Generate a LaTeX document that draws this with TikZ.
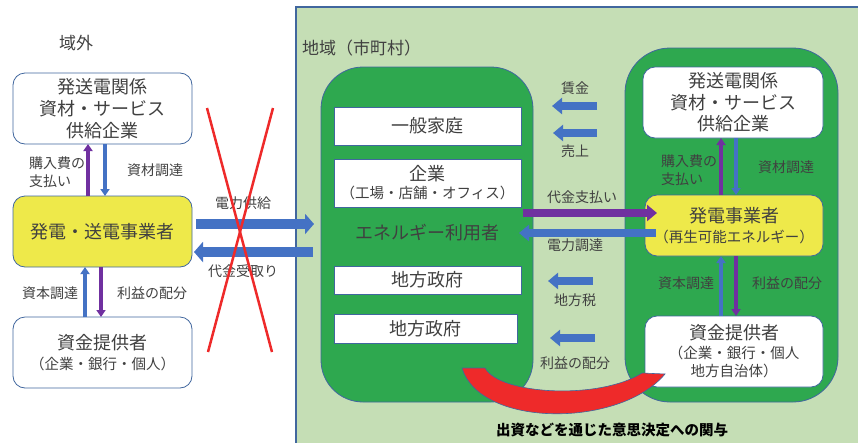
\documentclass[tikz,border=0pt]{standalone}
\usepackage{fontspec}
\setmainfont{Noto Sans CJK JP}
\usetikzlibrary{arrows.meta}
\definecolor{txt}{HTML}{404040}
\definecolor{bgreen}{HTML}{C5DEB5}
\definecolor{dgreen}{HTML}{2EA84F}
\definecolor{bblue}{HTML}{4472C4}
\definecolor{ppl}{HTML}{7030A0}
\definecolor{yel}{HTML}{EEE94A}
\definecolor{rred}{HTML}{EE2A2A}
\definecolor{edge}{HTML}{41679E}
\newcommand\fbig{\fontsize{18}{22}\selectfont}
\newcommand\fsm{\fontsize{14}{18}\selectfont}
\tikzset{
  box/.style={draw=edge, line width=0.8pt, rounded corners=12pt, inner sep=0pt, outer sep=0pt, align=center, text=txt, font=\fbig},
  wbox/.style={box, fill=white},
  ybox/.style={box, fill=yel},
  rbox/.style={draw=edge, line width=0.8pt, fill=white, inner sep=0pt, outer sep=0pt, align=center, text=txt, font=\fbig},
  gbox/.style={draw=edge, line width=0.8pt, fill=dgreen},
  lbl/.style={text=txt, font=\fsm, inner sep=0pt, align=center},
  thinb/.style={draw=bblue, line width=3.2pt, -{Triangle[width=9pt,length=7pt]}},
  thinp/.style={draw=ppl, line width=3.2pt, -{Triangle[width=9pt,length=7pt]}},
  blk/.style={line width=8pt, -{Triangle[width=16pt,length=10pt]}},
}
\begin{document}
\begin{tikzpicture}[x=1pt, y=-1pt]
\useasboundingbox (0,0) rectangle (858,442);
% region background
\fill[bgreen] (296,7) rectangle (862,446);
\draw[edge, line width=1.2pt] (296,446) -- (296,7) -- (862,7);
\node[text=txt, font=\fontsize{17}{20}\selectfont, inner sep=0pt] (outside) at (76,43) {域外};
\node[text=txt, font=\fontsize{17}{20}\selectfont, inner sep=0pt, anchor=west] (region) at (302,48) {地域（市町村）};
% green containers
\draw[gbox, rounded corners=42pt] (321,67) rectangle (533,402);
\draw[gbox, rounded corners=45pt] (625,48) rectangle (838,402);
% left side boxes
\node[wbox, minimum width=179pt, minimum height=71pt] (lsup) at (102.5,108.5) {発送電関係\\資材・サービス\\供給企業};
\node[ybox, minimum width=179pt, minimum height=71pt] (lgen) at (102.5,231.5) {発電・送電事業者};
\node[wbox, minimum width=179pt, minimum height=71pt, font=\fontsize{14.5}{20}\selectfont] (lfund) at (102.5,352.5) {{\fbig 資金提供者}\\（企業・銀行・個人）};
% left arrows
\draw[thinp] ([xshift=-14.5pt]lgen.north) -- ([xshift=-14.5pt]lsup.south);
\draw[thinb] ([xshift=2.5pt]lsup.south) -- ([xshift=2.5pt]lgen.north);
\draw[thinb] ([xshift=-17.5pt]lfund.north) -- ([xshift=-17.5pt]lgen.south);
\draw[thinp] ([xshift=-1.5pt]lgen.south) -- ([xshift=-1.5pt]lfund.north);
\node[lbl, align=left, anchor=west] (l1) at (29,172) {購入費の\\支払い};
\node[lbl] (l2) at (155,170) {資材調達};
\node[lbl] (l3) at (50,293) {資本調達};
\node[lbl] (l4) at (152,293) {利益の配分};
% users box contents
\node[rbox, minimum width=187pt, minimum height=38pt] (home) at (427.5,126) {一般家庭};
\node[rbox, minimum width=187pt, minimum height=48pt, font=\fontsize{14.5}{18}\selectfont] (corp) at (427.5,183) {{\fbig 企業}\\（工場・店舗・オフィス）};
\node[text=txt, font=\fbig, inner sep=0pt] (users) at (427,233) {エネルギー利用者};
\node[rbox, minimum width=187pt, minimum height=28pt] (gov1) at (427.5,280) {地方政府};
\node[rbox, minimum width=183pt, minimum height=29pt] (gov2) at (425.5,328.5) {地方政府};
% right side boxes
\node[wbox, minimum width=180pt, minimum height=71pt, font=\fontsize{18}{21.5}\selectfont] (rsup) at (733,102.5) {発送電関係\\資材・サービス\\供給企業};
\node[ybox, minimum width=178pt, minimum height=61pt, font=\fontsize{14.5}{20}\selectfont] (rgen) at (734,225.5) {{\fbig 発電事業者}\\（再生可能エネルギー）};
\node[wbox, minimum width=178pt, minimum height=71pt, font=\fontsize{14.5}{18}\selectfont] (rfund) at (734,351.5) {{\fbig 資金提供者}\\[1pt]（企業・銀行・個人\\地方自治体）};
\draw[thinp] ([xshift=-13pt]rgen.north) -- ([xshift=-12pt]rsup.south);
\draw[thinb] ([xshift=3pt]rsup.south) -- ([xshift=2pt]rgen.north);
\draw[thinb] ([xshift=-13pt]rfund.north) -- ([xshift=-13pt]rgen.south);
\draw[thinp] ([xshift=2pt]rgen.south) -- ([xshift=2pt]rfund.north);
\node[lbl, align=left, anchor=west] (r1) at (661,170) {購入費の\\支払い};
\node[lbl] (r2) at (786,167) {資材調達};
\node[lbl] (r3) at (686,283) {資本調達};
\node[lbl] (r4) at (787,283) {利益の配分};
% middle flows
\coordinate (w1) at (597,106); \coordinate (w2) at (552,106);
\coordinate (s1) at (597,133); \coordinate (s2) at (553,133);
\coordinate (t1) at (593,281); \coordinate (t2) at (548,281);
\coordinate (p1) at (595,338); \coordinate (p2) at (550,338);
\coordinate (pay1) at (523,213); \coordinate (pay2) at (657,213);
\coordinate (buy1) at (656,233); \coordinate (buy2) at (519,233);
\draw[blk, bblue] (w1) -- (w2);
\draw[blk, bblue] (s1) -- (s2);
\draw[blk, bblue] (t1) -- (t2);
\draw[blk, bblue] (p1) -- (p2);
\draw[blk, ppl] (pay1) -- (pay2);
\draw[blk, bblue] (buy1) -- (buy2);
\node[lbl] (m1) at (575,88) {賃金};
\node[lbl] (m2) at (575,151) {売上};
\node[lbl] (m3) at (582,197) {代金支払い};
\node[lbl] (m4) at (575,245) {電力調達};
\node[lbl] (m5) at (575,300) {地方税};
\node[lbl] (m6) at (575,363) {利益の配分};
% left-to-region flows
\coordinate (e0) at (196,224); \coordinate (e1) at (314,224);
\coordinate (e2) at (313,252); \coordinate (e3) at (194,252);
\draw[blk, line width=10pt, -{Triangle[width=20pt,length=9pt]}, bblue] (e0) -- (e1);
\draw[blk, line width=10pt, -{Triangle[width=20pt,length=9pt]}, bblue] (e2) -- (e3);
\node[lbl] (f1) at (243,203) {電力供給};
\node[lbl] (f2) at (243,271) {代金受取り};
% red cross
\draw[rred, line width=2.5pt] (207,108) -- (272,352);
\draw[rred, line width=2.5pt] (273,108) -- (208,352);
% red crescent
\filldraw[fill=rred, draw=edge, line width=0.6pt] (462,368) .. controls (480,428) and (620,428) .. (665,374) -- (642,373) .. controls (600,400) and (500,395) .. (485,368) -- cycle;
\node[font=\fontsize{14.5}{18}\selectfont\bfseries, text=black, inner sep=0pt] (note) at (612,430) {出資などを通じた意思決定への関与};
\end{tikzpicture}
\end{document}
